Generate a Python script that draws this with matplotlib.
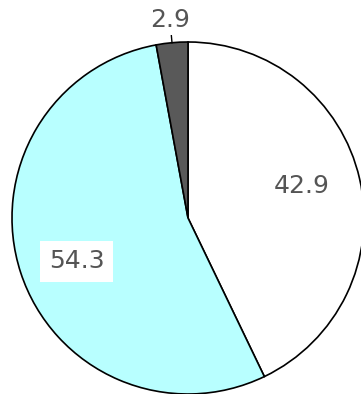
import numpy as np
import matplotlib
matplotlib.use("Agg")
from matplotlib import pyplot as plt

# share of each group, clockwise from 12 o'clock
values = [42.9, 54.3, 2.9]
labels = ["42.9", "54.3", "2.9"]
colors = ["#ffffff", "#b8ffff", "#595959"]
label_dist = [0.67, 0.68, 1.13]
label_shift = [3, 3.2, 0]  # degrees, labels sit a touch off the wedge middle

W, H = 361, 394
cx, cy, r = 188, 218, 176

fig = plt.figure(figsize=(W / 100, H / 100), dpi=100)
ax = fig.add_axes([0, 0, 1, 1])

wedges, _ = ax.pie(values, colors=colors, startangle=90, counterclock=False,
                   wedgeprops=dict(edgecolor="black", linewidth=1.2))

for w, lab, d, s in zip(wedges, labels, label_dist, label_shift):
    mid = np.deg2rad((w.theta1 + w.theta2) / 2)
    ang = mid + np.deg2rad(s)
    x, y = d * np.cos(ang), d * np.sin(ang)
    kw = {}
    if lab == "54.3":
        kw["bbox"] = dict(boxstyle="square,pad=0.35", fc="white", ec="none")
    ax.text(x, y, lab, ha="center", va="center", fontsize=18,
            color="#555555", **kw)
    if d > 1:
        ax.plot([np.cos(mid), 1.04 * np.cos(mid)],
                [np.sin(mid), 1.04 * np.sin(mid)], color="black", lw=1)

ax.set_xlim(-cx / r, (W - cx) / r)
ax.set_ylim(-(H - cy) / r, cy / r)
ax.set_aspect("auto")
ax.axis("off")

fig.savefig("out.png", dpi=100)
